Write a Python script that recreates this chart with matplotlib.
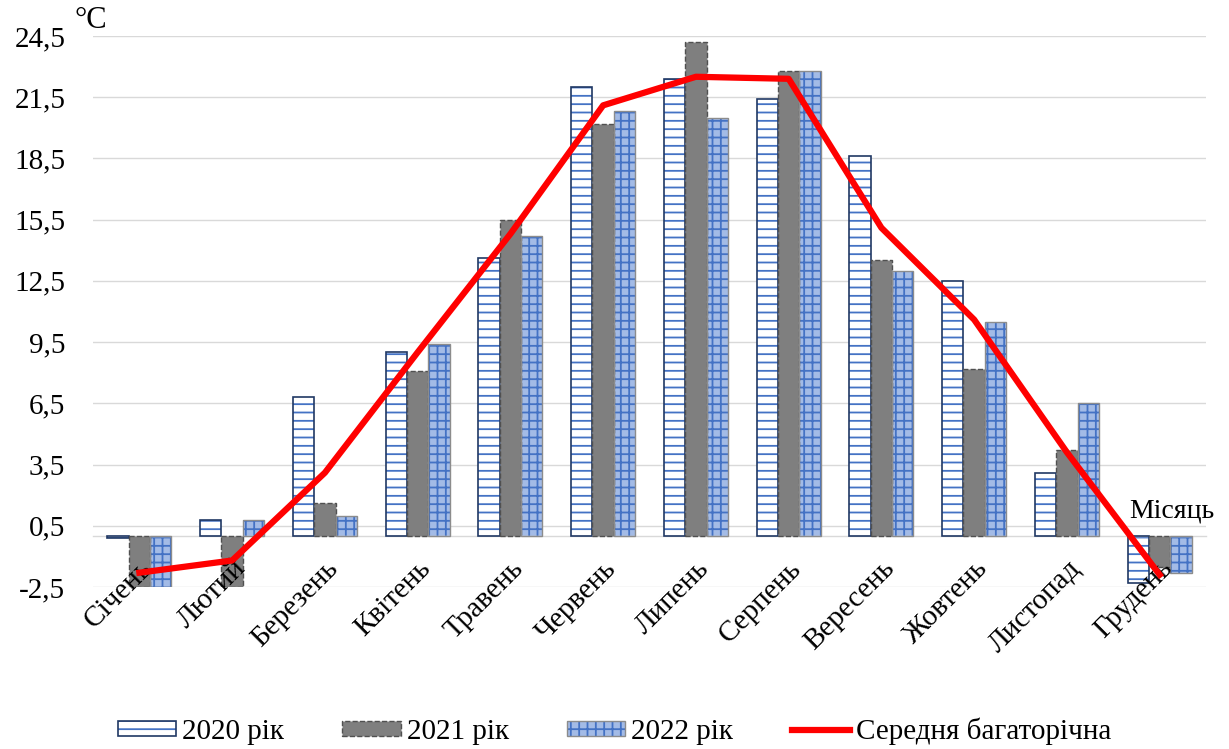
import matplotlib

matplotlib.use("Agg")
import matplotlib.pyplot as plt
import matplotlib.patches as mpatches
import matplotlib.transforms as mtransforms
from matplotlib.lines import Line2D
import numpy as np

plt.rcParams["font.family"] = ["Liberation Serif", "DejaVu Serif"]
plt.rcParams["hatch.linewidth"] = 1.3

months = ["Січень", "Лютий", "Березень", "Квітень", "Травень", "Червень",
          "Липень", "Серпень", "Вересень", "Жовтень", "Листопад", "Грудень"]
t2020 = [-0.1, 0.8, 6.8, 9.0, 13.6, 22.0, 22.4, 21.4, 18.6, 12.5, 3.1, -2.3]
t2021 = [-2.5, -2.5, 1.6, 8.1, 15.5, 20.2, 24.2, 22.8, 13.5, 8.2, 4.2, -1.5]
t2022 = [-2.5, 0.8, 1.0, 9.4, 14.7, 20.8, 20.5, 22.8, 13.0, 10.5, 6.5, -1.8]
t_mean = [-1.8, -1.2, 3.1, 9.0, 14.8, 21.1, 22.5, 22.4, 15.1, 10.6, 4.1, -1.9]
yticks = [-2.5, 0.5, 3.5, 6.5, 9.5, 12.5, 15.5, 18.5, 21.5, 24.5]

NAVY = "#203864"
BLUE = "#4472C4"
PALE = "#A3BBE6"
GRAY = "#7F7F7F"
GRID = "#D9D9D9"


def hatched_bars(ax, x, h, width, hatch, face, edge, edge_lw):
    ax.bar(x, h, width, color=face, edgecolor=BLUE, linewidth=0,
           hatch=hatch, zorder=2)
    ax.bar(x, h, width, fill=False, edgecolor=edge, linewidth=edge_lw, zorder=3)


fig = plt.figure(figsize=(12.29, 7.49), dpi=100)
ax = fig.add_axes([0.0757, 0.2163, 0.9056, 0.7357])

x = np.arange(len(months))
w = 0.23

hatched_bars(ax, x - w, t2020, w, "--", "white", NAVY, 1.2)
ax.bar(x, t2021, w, color=GRAY, edgecolor="#505050", linewidth=1.0,
       linestyle="--", zorder=3)
hatched_bars(ax, x + w, t2022, w, "++", PALE, "#8C8C8C", 1.0)

ax.plot(x, t_mean, color="#FF0000", linewidth=4.5, zorder=6)

ax.set_xlim(-0.5, 11.5)
ax.set_ylim(-2.5, 24.5)
ax.set_yticks(yticks)
ax.set_yticklabels([f"{v:.1f}".replace(".", ",") for v in yticks], fontsize=21)
ax.yaxis.grid(True, color=GRID, linewidth=1.0)
ax.set_axisbelow(True)

for s in ["top", "right", "left"]:
    ax.spines[s].set_visible(False)
ax.spines["bottom"].set_position(("data", 0))
ax.spines["bottom"].set_color(GRID)
ax.spines["bottom"].set_linewidth(1.0)

ax.set_xticks(x)
ax.set_xticklabels([])
ax.tick_params(axis="x", length=0)
ax.tick_params(axis="y", length=0, pad=20)

# month labels drawn over the bars, hanging from the zero line
lab_tr = ax.transData + mtransforms.ScaledTranslation(0, -14 / 72, fig.dpi_scale_trans)
for i, m in enumerate(months):
    ax.text(i, 0, m, fontsize=21, rotation=45, ha="right", va="top",
            rotation_mode="anchor", transform=lab_tr, zorder=4, clip_on=False)

fig.text(0.061, 0.953, "°C", fontsize=22, ha="left", va="bottom")
ax.text(11.13, 0.6, "Місяць", fontsize=20, ha="center", va="bottom", zorder=10)

h2020 = (mpatches.Patch(facecolor="white", edgecolor=BLUE, hatch="--", linewidth=0),
         mpatches.Patch(fill=False, edgecolor=NAVY, linewidth=1.2))
h2021 = mpatches.Patch(facecolor=GRAY, edgecolor="#505050", linestyle="--", linewidth=1.0)
h2022 = (mpatches.Patch(facecolor=PALE, edgecolor=BLUE, hatch="++", linewidth=0),
         mpatches.Patch(fill=False, edgecolor="#8C8C8C", linewidth=1.0))
hmean = Line2D([], [], color="#FF0000", linewidth=4.5)

fig.legend([h2020, h2021, h2022, hmean],
           ["2020 рік", "2021 рік", "2022 рік", "Середня багаторічна"],
           loc="center", bbox_to_anchor=(0.5, 0.024), ncol=4, frameon=False,
           fontsize=21, handlelength=2.0, handleheight=0.4,
           handletextpad=0.2, columnspacing=2.0)

fig.savefig("out.png", dpi=100, facecolor="white")
